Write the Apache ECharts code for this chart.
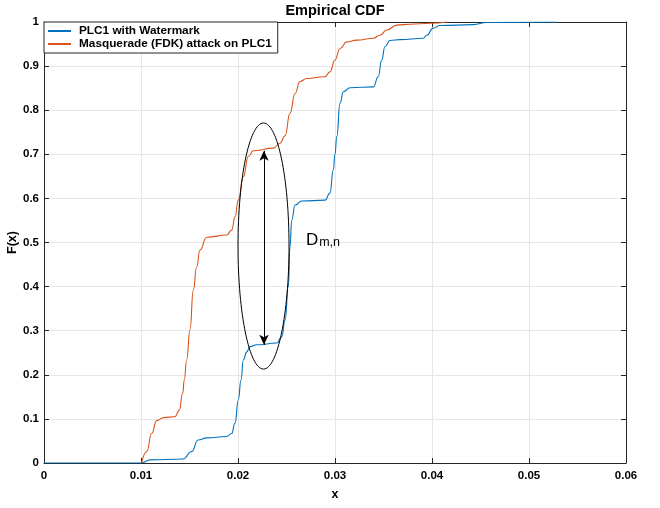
<!DOCTYPE html>
<html><head><meta charset="utf-8">
<script src="https://cdn.jsdelivr.net/npm/echarts@6/dist/echarts.min.js"></script>
<style>html,body{margin:0;padding:0;background:#fff}#c{width:660px;height:508px}</style>
</head><body><div id="c"></div>
<script>
const xTicks = [0, 0.01, 0.02, 0.03, 0.04, 0.05, 0.06];
const yTicks = [0, 0.1, 0.2, 0.3, 0.4, 0.5, 0.6, 0.7, 0.8, 0.9, 1];
const seriesNames = ['PLC1 with Watermark', 'Masquerade (FDK) attack on PLC1'];

const blueX = [0, 0.0100, 0.01093, 0.01433, 0.01523, 0.01588, 0.01677, 0.01884, 0.01935, 0.01969, 0.02003, 0.02031, 0.02055, 0.02090, 0.02124, 0.02193, 0.02399, 0.02451, 0.02485, 0.02519, 0.02536, 0.02554, 0.02588, 0.02657, 0.02897, 0.02948, 0.02982, 0.03000, 0.03018, 0.03052, 0.03086, 0.03155, 0.03395, 0.03446, 0.03481, 0.03515, 0.03567, 0.03670, 0.03910, 0.03945, 0.04013, 0.04082, 0.04426, 0.04564, 0.05286];
const blueY = [0, 0, 0.007, 0.009, 0.026, 0.052, 0.057, 0.060, 0.067, 0.090, 0.143, 0.188, 0.234, 0.252, 0.264, 0.268, 0.272, 0.286, 0.324, 0.400, 0.490, 0.551, 0.585, 0.594, 0.596, 0.612, 0.664, 0.700, 0.740, 0.816, 0.842, 0.851, 0.853, 0.876, 0.914, 0.944, 0.958, 0.960, 0.963, 0.970, 0.986, 0.992, 0.994, 0.999, 1.0];

const orangeX = [0.01007, 0.01059, 0.0111, 0.01162, 0.0123, 0.0135, 0.01395, 0.0143, 0.01446, 0.01471, 0.01505, 0.01539, 0.01574, 0.01608, 0.01677, 0.01884, 0.01935, 0.01969, 0.02003, 0.02055, 0.02106, 0.02158, 0.02364, 0.02433, 0.02485, 0.02536, 0.02588, 0.02639, 0.02708, 0.02897, 0.02948, 0.03000, 0.03052, 0.03121, 0.03224, 0.03395, 0.03464, 0.03533, 0.03636, 0.03773, 0.03979, 0.04152];
const orangeY = [0, 0.026, 0.067, 0.096, 0.103, 0.105, 0.120, 0.158, 0.188, 0.234, 0.302, 0.392, 0.445, 0.483, 0.512, 0.517, 0.528, 0.558, 0.596, 0.649, 0.695, 0.708, 0.714, 0.725, 0.742, 0.793, 0.838, 0.865, 0.872, 0.876, 0.887, 0.914, 0.940, 0.955, 0.959, 0.963, 0.970, 0.982, 0.993, 0.995, 0.997, 1.0];

// annotation (data coordinates)
const ellipseCenter = [0.02263, 0.492];
const ellipseRadius = [0.00263, 0.279];
const arrowX = 0.02268;
const arrowYs = [0.268, 0.708];
const dLabelPos = [0.02700, 0.540];

const FONT = 'Liberation Sans';
const AXC = '#262626';
const chart = echarts.init(document.getElementById('c'), null, {renderer: 'canvas'});

const pairs = (xs, ys) => xs.map((x, i) => [x, ys[i]]);

const baseAxis = {
  axisLine: {show: true, onZero: false, lineStyle: {color: AXC, width: 1}},
  axisTick: {show: true, inside: true, length: 5, lineStyle: {color: AXC}},
};

const option = {
  animation: false,
  backgroundColor: '#fff',
  title: {
    text: 'Empirical CDF', left: 335, top: 3, padding: 0, textAlign: 'center',
    textStyle: {fontFamily: FONT, fontSize: 14.5, fontWeight: 'bold', color: '#000'}
  },
  legend: {
    left: 44, top: 22, orient: 'vertical',
    data: seriesNames,
    icon: 'rect', itemWidth: 23, itemHeight: 2, itemGap: 1,
    padding: [3, 6, 3, 4],
    borderColor: AXC, borderWidth: 1, backgroundColor: '#fff',
    textStyle: {fontFamily: FONT, fontSize: 11.8, fontWeight: 'bold', color: '#000', padding: [0, 0, 0, 3]}
  },
  grid: {left: 44, right: 34, top: 22, bottom: 45, show: false, outerBoundsMode: 'none', containLabel: false},
  xAxis: [
    Object.assign({}, baseAxis, {
      type: 'value', min: xTicks[0], max: xTicks[xTicks.length - 1], interval: 0.01,
      position: 'bottom',
      name: 'x', nameLocation: 'middle', nameGap: 25, nameMoveOverlap: false,
      nameTextStyle: {fontFamily: FONT, fontSize: 12.5, fontWeight: 'bold', color: '#000'},
      axisLabel: {fontFamily: FONT, fontSize: 11.5, fontWeight: 'bold', color: '#000', margin: 7,
        formatter: v => String(+v.toFixed(2))},
      splitLine: {show: true, lineStyle: {color: '#e6e6e6', width: 1}}
    }),
    Object.assign({}, baseAxis, {
      type: 'value', min: xTicks[0], max: xTicks[xTicks.length - 1], interval: 0.01,
      position: 'top', axisLabel: {show: false}, splitLine: {show: false}
    })
  ],
  yAxis: [
    Object.assign({}, baseAxis, {
      type: 'value', min: yTicks[0], max: yTicks[yTicks.length - 1], interval: 0.1,
      position: 'left',
      name: 'F(x)', nameLocation: 'middle', nameGap: 25, nameRotate: 90, nameMoveOverlap: false,
      nameTextStyle: {fontFamily: FONT, fontSize: 12.5, fontWeight: 'bold', color: '#000'},
      axisLabel: {fontFamily: FONT, fontSize: 11.5, fontWeight: 'bold', color: '#000', margin: 5,
        formatter: v => String(+v.toFixed(1))},
      splitLine: {show: true, lineStyle: {color: '#e6e6e6', width: 1}}
    }),
    Object.assign({}, baseAxis, {
      type: 'value', min: yTicks[0], max: yTicks[yTicks.length - 1], interval: 0.1,
      position: 'right', axisLabel: {show: false}, splitLine: {show: false}
    })
  ],
  series: [
    {
      name: seriesNames[0], type: 'line', data: pairs(blueX, blueY),
      showSymbol: false, symbol: 'none', smooth: 0.5, smoothMonotone: 'x',
      lineStyle: {color: '#0072BD', width: 1.1}, itemStyle: {color: '#0072BD'}, z: 3,
      markLine: {
        silent: true, symbol: ['arrow', 'arrow'], symbolSize: [7, 10],
        lineStyle: {color: '#000', width: 1, type: 'solid'}, label: {show: false},
        data: [[{coord: [arrowX, arrowYs[0]]}, {coord: [arrowX, arrowYs[1]]}]]
      }
    },
    {
      name: seriesNames[1], type: 'line', data: pairs(orangeX, orangeY),
      showSymbol: false, symbol: 'none', smooth: 0.5, smoothMonotone: 'x',
      lineStyle: {color: '#D95319', width: 1.1}, itemStyle: {color: '#D95319'}, z: 4
    }
  ]
};
chart.setOption(option);

function drawAnnotations() {
  const c = chart.convertToPixel({gridIndex: 0}, ellipseCenter);
  const e = chart.convertToPixel({gridIndex: 0}, [ellipseCenter[0] + ellipseRadius[0], ellipseCenter[1] + ellipseRadius[1]]);
  const t = chart.convertToPixel({gridIndex: 0}, dLabelPos);
  chart.setOption({
    graphic: [
      {type: 'ellipse', shape: {cx: c[0], cy: c[1], rx: Math.abs(e[0] - c[0]), ry: Math.abs(c[1] - e[1])},
        style: {fill: 'none', stroke: '#000', lineWidth: 1}, z: 10, silent: true},
      {type: 'text', x: t[0], y: t[1], z: 10, silent: true,
        style: {text: '{d|D}{s|m,n}', rich: {
          d: {fontFamily: FONT, fontSize: 17, color: '#000', verticalAlign: 'bottom'},
          s: {fontFamily: FONT, fontSize: 12.5, color: '#000', padding: [11, 0, 0, 1], verticalAlign: 'bottom'}
        }}}
    ]
  });
}
drawAnnotations();
</script></body></html>
